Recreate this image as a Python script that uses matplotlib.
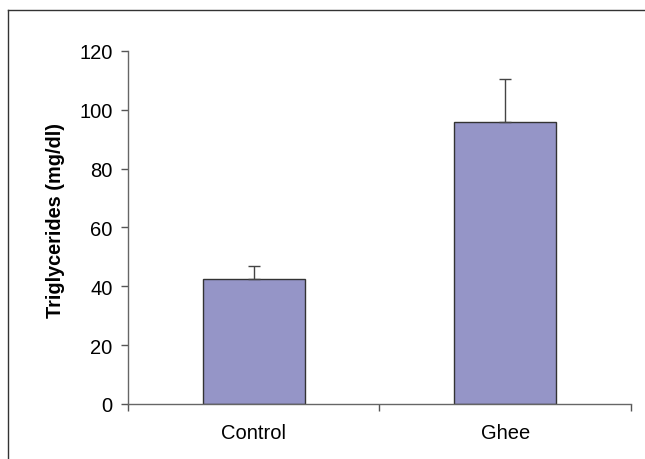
import matplotlib
matplotlib.use("Agg")
import matplotlib.pyplot as plt
from matplotlib.lines import Line2D

# data
groups = ["Control", "Ghee"]
means = [42.5, 96.0]
errors = [4.5, 14.5]
y_ticks = [0, 20, 40, 60, 80, 100, 120]

plt.rcParams["font.family"] = ["Liberation Sans", "DejaVu Sans"]

fig = plt.figure(figsize=(6.45, 4.6), dpi=100)
ax = fig.add_axes([0.1984, 0.1196, 0.7798, 0.7674])

x = [0.5, 1.5]
ax.bar(x, means, width=0.405, color="#9595c7", edgecolor="#333333", linewidth=1.0, zorder=2)
ax.errorbar(x, means, yerr=[[0, 0], errors], fmt="none", ecolor="#444444",
            elinewidth=1.0, capsize=4.5, capthick=1.0, zorder=3)

ax.set_xlim(0, 2)
ax.set_ylim(0, 120)
ax.set_yticks(y_ticks)
ax.set_xticks([0, 1, 2])
ax.set_xticklabels([])
ax.set_xticks(x, minor=True)
ax.set_xticklabels(groups, minor=True)
ax.tick_params(axis="x", which="minor", length=0, pad=14, labelsize=14.5)
ax.tick_params(axis="x", which="major", length=5, color="#555555", width=1)
ax.tick_params(axis="y", length=5, color="#555555", width=1, labelsize=14.5, pad=6)

for side in ["top", "right"]:
    ax.spines[side].set_visible(False)
for side in ["left", "bottom"]:
    ax.spines[side].set_color("#666666")
    ax.spines[side].set_linewidth(1.0)

ax.set_ylabel("Triglycerides (mg/dl)", fontsize=14.3, fontweight="bold")
ax.yaxis.set_label_coords(-0.125, 0.524)

# outer frame (left and top edges only)
fx = 8 / 645
fy = 1 - 11 / 460
fig.add_artist(Line2D([fx, fx], [0, fy], transform=fig.transFigure, color="#333333", linewidth=1.0))
fig.add_artist(Line2D([fx, 1], [fy, fy], transform=fig.transFigure, color="#333333", linewidth=1.0))

fig.savefig("out.png", dpi=100)
